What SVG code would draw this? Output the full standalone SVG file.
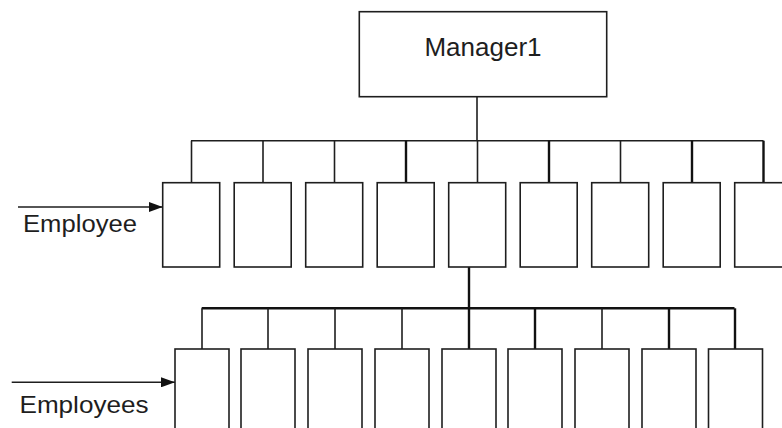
<svg xmlns="http://www.w3.org/2000/svg" width="782" height="428" viewBox="0 0 782 428">
<style>
.box{fill:#fff;stroke:#1e1e1e;stroke-width:1.6}
.ln{fill:none;stroke:#1e1e1e;stroke-width:1.6}
.thk{stroke-width:2.4;stroke:#111}
.lbl{font-family:"Liberation Sans",Arial,sans-serif;fill:#1e1e1e}
</style>
<defs>
<marker id="ah" viewBox="0 0 14 10" refX="14" refY="5" markerWidth="14" markerHeight="10" markerUnits="userSpaceOnUse" orient="auto">
<path d="M0,0 L14,5 L0,10 Z" fill="#111"/>
</marker>
</defs>
<rect width="782" height="428" fill="#fff"/>
<g id="connectors">
<line class="ln" x1="477" y1="96.7" x2="477" y2="140.7"/>
<line class="ln" x1="191" y1="140.7" x2="763.5" y2="140.7"/>
<line class="ln" x1="191.5" y1="140.7" x2="191.5" y2="182.7"/>
<line class="ln" x1="263" y1="140.7" x2="263" y2="182.7"/>
<line class="ln" x1="334.5" y1="140.7" x2="334.5" y2="182.7"/>
<line class="ln thk" x1="406" y1="140.7" x2="406" y2="182.7"/>
<line class="ln" x1="477.5" y1="140.7" x2="477.5" y2="182.7"/>
<line class="ln thk" x1="549" y1="140.7" x2="549" y2="182.7"/>
<line class="ln" x1="620.5" y1="140.7" x2="620.5" y2="182.7"/>
<line class="ln thk" x1="692" y1="140.7" x2="692" y2="182.7"/>
<line class="ln thk" x1="763.5" y1="140.7" x2="763.5" y2="182.7"/>
<line class="ln thk" x1="469" y1="267" x2="469" y2="308.3"/>
<line class="ln thk" x1="201.7" y1="308.3" x2="734.5" y2="308.3"/>
<line class="ln" x1="202" y1="308.3" x2="202" y2="349"/>
<line class="ln" x1="268" y1="308.3" x2="268" y2="349"/>
<line class="ln" x1="335" y1="308.3" x2="335" y2="349"/>
<line class="ln" x1="402" y1="308.3" x2="402" y2="349"/>
<line class="ln thk" x1="469" y1="308.3" x2="469" y2="349"/>
<line class="ln thk" x1="535" y1="308.3" x2="535" y2="349"/>
<line class="ln" x1="602" y1="308.3" x2="602" y2="349"/>
<line class="ln thk" x1="669" y1="308.3" x2="669" y2="349"/>
<line class="ln thk" x1="735" y1="308.3" x2="735" y2="349"/>
<line class="ln" x1="18" y1="207" x2="162.7" y2="207" marker-end="url(#ah)"/>
<line class="ln" x1="11.7" y1="382.3" x2="175" y2="382.3" marker-end="url(#ah)"/>
</g>
<g id="manager1">
<rect class="box" x="359.3" y="11.7" width="247.4" height="85"/>
<text class="lbl" x="483" y="56" font-size="26" text-anchor="middle">Manager1</text>
</g>
<g id="employee-label">
<text class="lbl" x="23" y="231.5" font-size="23" textLength="114" lengthAdjust="spacingAndGlyphs">Employee</text>
</g>
<g id="employees-label">
<text class="lbl" x="19.5" y="413.3" font-size="24" textLength="129" lengthAdjust="spacingAndGlyphs">Employees</text>
</g>
<g id="row1">
<rect id="e1" class="box" x="162.7" y="182.7" width="57" height="84.3"/>
<rect id="e2" class="box" x="234.2" y="182.7" width="57" height="84.3"/>
<rect id="e3" class="box" x="305.7" y="182.7" width="57" height="84.3"/>
<rect id="e4" class="box" x="377.2" y="182.7" width="57" height="84.3"/>
<rect id="e5" class="box" x="448.7" y="182.7" width="57" height="84.3"/>
<rect id="e6" class="box" x="520.2" y="182.7" width="57" height="84.3"/>
<rect id="e7" class="box" x="591.7" y="182.7" width="57" height="84.3"/>
<rect id="e8" class="box" x="663.2" y="182.7" width="57" height="84.3"/>
<rect id="e9" class="box" x="734.7" y="182.7" width="57" height="84.3"/>
</g>
<g id="row2">
<rect id="s1" class="box" x="175" y="349" width="54" height="100"/>
<rect id="s2" class="box" x="241" y="349" width="54" height="100"/>
<rect id="s3" class="box" x="308" y="349" width="54" height="100"/>
<rect id="s4" class="box" x="375" y="349" width="54" height="100"/>
<rect id="s5" class="box" x="442" y="349" width="54" height="100"/>
<rect id="s6" class="box" x="508" y="349" width="54" height="100"/>
<rect id="s7" class="box" x="575" y="349" width="54" height="100"/>
<rect id="s8" class="box" x="642" y="349" width="54" height="100"/>
<rect id="s9" class="box" x="708.5" y="349" width="54" height="100"/>
</g>
</svg>
